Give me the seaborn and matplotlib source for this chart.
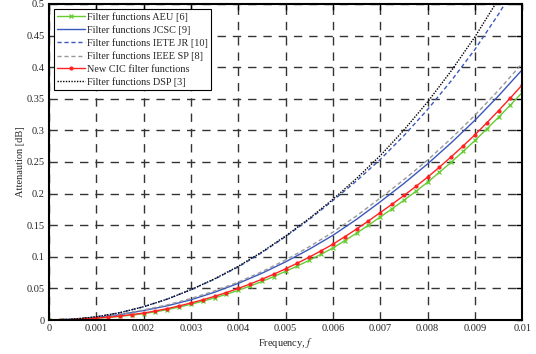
import numpy as np
import pandas as pd
import seaborn as sns
import matplotlib.pyplot as plt

# frequency grids (fine grid for the two marker series)
freq_fine = [i * 0.00025 for i in range(41)]
freq = [i * 0.0005 for i in range(21)]

# attenuation values [dB]
aeu = [0, 0.0002, 0.0007, 0.0016, 0.003, 0.0042, 0.0058, 0.0078,
       0.010, 0.0130, 0.0165, 0.0205, 0.025, 0.0298, 0.0350, 0.0408,
       0.047, 0.0537, 0.0610, 0.0688, 0.077, 0.0855, 0.0945, 0.1040,
       0.114, 0.1255, 0.1375, 0.1500, 0.163, 0.1760, 0.1895, 0.2035,
       0.218, 0.2337, 0.2498, 0.2666, 0.284, 0.3021, 0.3208, 0.3401, 0.360]
new_cic = [0, 0.0002, 0.0008, 0.0017, 0.003, 0.0044, 0.0063, 0.0086,
           0.011, 0.0143, 0.0180, 0.0223, 0.027, 0.0320, 0.0375, 0.0435,
           0.050, 0.0570, 0.0645, 0.0725, 0.081, 0.0900, 0.0995, 0.1095,
           0.120, 0.1317, 0.1440, 0.1567, 0.170, 0.1832, 0.1970, 0.2112,
           0.226, 0.2418, 0.2583, 0.2753, 0.293, 0.3118, 0.3313, 0.3513, 0.372]
jcsc = [0, 0.001, 0.004, 0.0085, 0.015, 0.0225, 0.032, 0.044, 0.058, 0.074, 0.092,
        0.112, 0.134, 0.1593, 0.187, 0.216, 0.247, 0.2804, 0.316, 0.3547, 0.396]
iete_jr = [0, 0.0013, 0.005, 0.0116, 0.021, 0.0331, 0.048, 0.0647, 0.084, 0.1067, 0.132,
           0.1592, 0.189, 0.2202, 0.254, 0.2917, 0.333, 0.3785, 0.428, 0.484, 0.545]
ieee_sp = [0, 0.001, 0.004, 0.009, 0.016, 0.024, 0.034, 0.046, 0.060, 0.0765, 0.095,
           0.1159, 0.139, 0.1648, 0.193, 0.222, 0.253, 0.2873, 0.324, 0.3636, 0.406]
dsp = [0, 0.0013, 0.005, 0.0116, 0.021, 0.0331, 0.048, 0.0652, 0.085, 0.1077, 0.133,
       0.1607, 0.191, 0.224, 0.260, 0.3005, 0.345, 0.3942, 0.448, 0.5078, 0.573]

xticks = [0, 0.001, 0.002, 0.003, 0.004, 0.005, 0.006, 0.007, 0.008, 0.009, 0.01]
xticklabels = ["0", "0.001", "0.002", "0.003", "0.004", "0.005", "0.006",
               "0.007", "0.008", "0.009", "0.01"]
yticks = [0, 0.05, 0.1, 0.15, 0.2, 0.25, 0.3, 0.35, 0.4, 0.45, 0.5]
yticklabels = ["0", "0.05", "0.1", "0.15", "0.2", "0.25", "0.3", "0.35", "0.4", "0.45", "0.5"]

sns.set_style("white")
plt.rcParams['font.family'] = ['Liberation Serif', 'DejaVu Serif']
plt.rcParams['mathtext.fontset'] = 'stix'

fig = plt.figure(figsize=(5.36, 3.54), dpi=100)
ax = fig.add_axes([0.0914, 0.096, 0.883, 0.893])

sns.lineplot(x=freq_fine, y=aeu, ax=ax, color="#66cc33", lw=1.0, marker="x",
             markersize=3, markeredgewidth=0.9, markeredgecolor="#66cc33",
             label="Filter functions AEU [6]")
sns.lineplot(x=freq, y=jcsc, ax=ax, color="#3a58bc", lw=1.0,
             label="Filter functions JCSC [9]")
sns.lineplot(x=freq, y=iete_jr, ax=ax, color="#3a58bc", lw=1.0, linestyle=(0, (3, 2)),
             label="Filter functions IETE JR [10]")
sns.lineplot(x=freq, y=ieee_sp, ax=ax, color="#999999", lw=1.0, linestyle=(0, (3, 2)),
             label="Filter functions IEEE SP [8]")
sns.lineplot(x=freq_fine, y=new_cic, ax=ax, color="#ff2222", lw=1.0, marker="o",
             markersize=3.0, markeredgewidth=0, markerfacecolor="#ff2222",
             label="New CIC filter functions")
sns.lineplot(x=freq, y=dsp, ax=ax, color="black", lw=1.0, linestyle=(0, (1, 1)),
             label="Filter functions DSP [3]")

ax.set_xlim(0, 0.01)
ax.set_ylim(0, 0.5)
ax.set_xticks(xticks)
ax.set_xticklabels(xticklabels)
ax.set_yticks(yticks)
ax.set_yticklabels(yticklabels)
ax.tick_params(direction="in", top=True, right=True, labelsize=7.5, length=4,
               width=1.0, color="black", pad=3)
ax.grid(True, color="0.2", linestyle=(0, (6, 5)), linewidth=1.0)
for s in ax.spines.values():
    s.set_linewidth(1.5)
    s.set_color("black")

ax.set_xlabel("Frequency, $f$", fontsize=7.5, labelpad=2)
ax.set_ylabel("Attenaution [dB]", fontsize=7.5, labelpad=1)

leg = ax.legend(loc="upper left", fontsize=7.4, frameon=True, fancybox=False,
                edgecolor="black", framealpha=1, borderaxespad=0.45,
                handlelength=2.7, handletextpad=0.2, labelspacing=0.33,
                borderpad=0.35)
leg.get_frame().set_linewidth(0.8)

fig.savefig("out.png", dpi=100)
